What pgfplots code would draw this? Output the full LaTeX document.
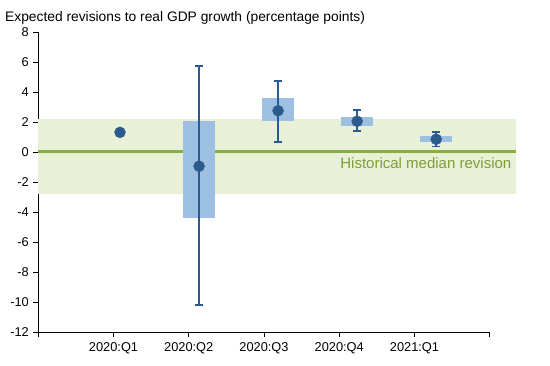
\documentclass[border=0pt]{standalone}
\usepackage{pgfplots}
\pgfplotsset{compat=1.18}
\usepackage{fontspec}
\setmainfont{Liberation Sans}
\definecolor{dblue}{HTML}{2B5B8C}
\definecolor{lblue}{HTML}{9DBFE1}
\definecolor{lgreen}{HTML}{8AAE3B}
\definecolor{band}{HTML}{E8F0D8}
\definecolor{tgreen}{HTML}{7E9E38}
\begin{document}
\begin{tikzpicture}
\useasboundingbox (-38.3pt,-32.7pt) rectangle (511.7pt,332.3pt);
\begin{axis}[
  at={(0,0)}, anchor=south west,
  scale only axis, width=451.4pt, height=300pt,
  xmin=0, xmax=6, ymin=-12, ymax=8,
  axis lines*=left,
  axis line style={black, line width=0.8pt},
  clip=false,
  xtick={0,1,2,3,4,5,6},
  xticklabels={,2020:Q1,2020:Q2,2020:Q3,2020:Q4,2021:Q1,},
  ytick={-12,-10,...,8},
  tick align=outside,
  major tick length=5pt,
  tick style={black, line width=0.8pt},
  tick label style={font=\fontsize{12.8}{14}\selectfont},
  /pgf/number format/assume math mode=true,
  yticklabel style={xshift=-1pt},
  xticklabel style={yshift=-2pt},
]
% historical band
\addplot[fill=band, draw=none] coordinates {(0,-2.76) (6.35,-2.76) (6.35,2.22) (0,2.22)};
% median line
\addplot[lgreen, line width=2.6pt] coordinates {(0,0.05) (6.35,0.05)};
% bars (ranges)
\addplot[fill=lblue, draw=none] coordinates {(1.927,-4.36) (2.347,-4.36) (2.347,2.09) (1.927,2.09)};
\addplot[fill=lblue, draw=none] coordinates {(2.977,2.11) (3.397,2.11) (3.397,3.62) (2.977,3.62)};
\addplot[fill=lblue, draw=none] coordinates {(4.028,1.77) (4.448,1.77) (4.448,2.35) (4.028,2.35)};
\addplot[fill=lblue, draw=none] coordinates {(5.079,0.71) (5.499,0.71) (5.499,1.09) (5.079,1.09)};
% points with error bars
\addplot[only marks, mark=*, mark size=5.5pt, color=dblue,
  error bars/.cd, y dir=both, y explicit,
  error bar style={dblue, line width=1.6pt},
  error mark options={rotate=90, mark size=4pt, dblue, line width=1.6pt}]
  coordinates {
    (2.137,-0.93) += (0,6.68) -= (0,9.25)
    (3.187,2.77) += (0,2.00) -= (0,2.10)
    (4.238,2.07) += (0,0.77) -= (0,0.65)
    (5.289,0.87) += (0,0.50) -= (0,0.47)
  };
\addplot[only marks, mark=*, mark size=5.5pt, color=dblue] coordinates {(1.086,1.33)};
\node[anchor=base east, text=tgreen, font=\fontsize{15}{17}\selectfont, inner sep=0pt] at (axis cs:6.29,-1.07) {Historical median revision};
\end{axis}
\node[anchor=base west, font=\fontsize{13.8}{16}\selectfont, inner sep=0pt] at (-33.3pt,311.3pt) {Expected revisions to real GDP growth (percentage points)};
\end{tikzpicture}
\end{document}
